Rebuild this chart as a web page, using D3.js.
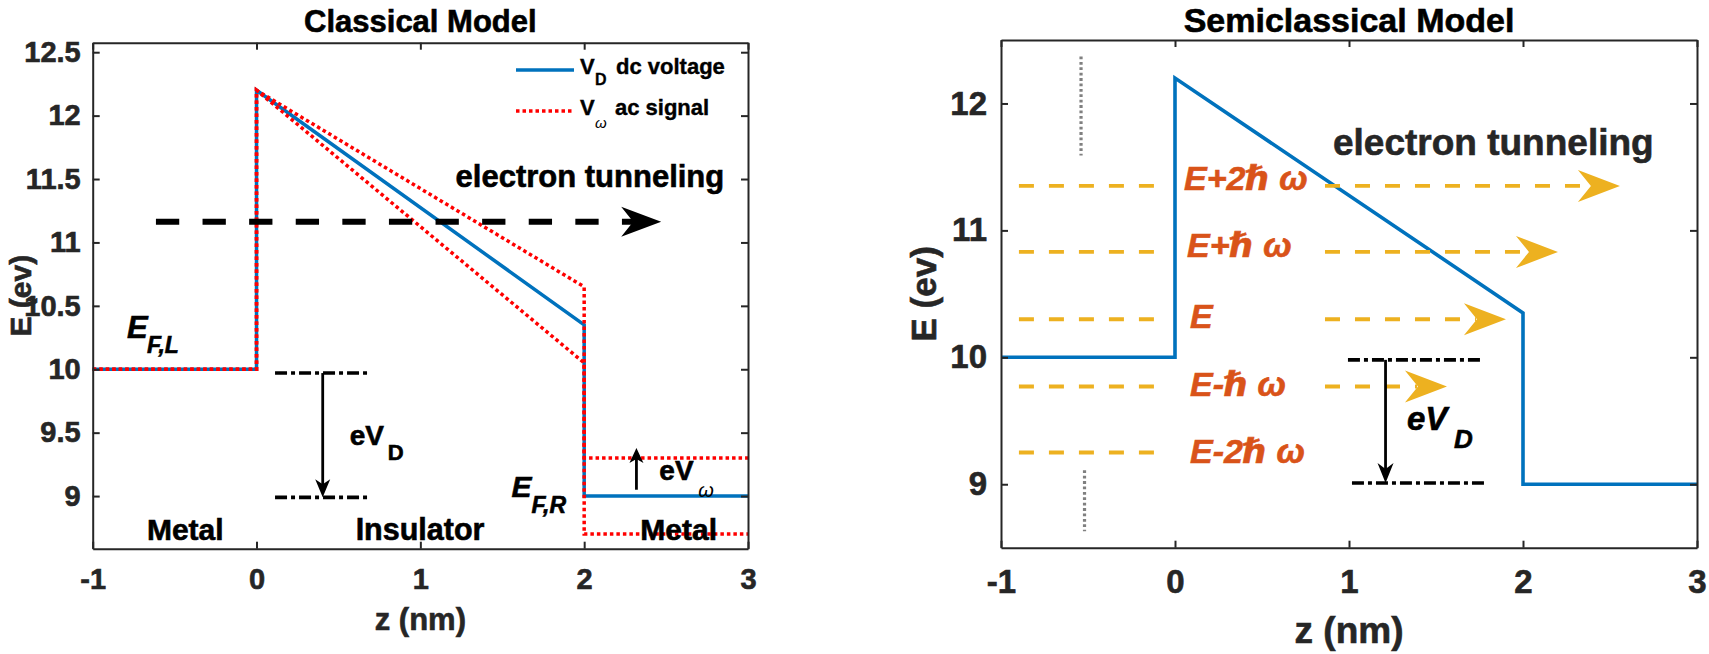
<!DOCTYPE html>
<html>
<head>
<meta charset="utf-8">
<script src="https://cdn.jsdelivr.net/npm/d3@7"></script>
<style>
  html, body { margin: 0; padding: 0; background: #fff; }
  svg { display: block; }
</style>
</head>
<body>
<svg id="chart" width="1709" height="654"></svg>
<script>
// ---- Data -------------------------------------------------------------
// Potential profile along the junction (z in nm, energy in eV)
const zProfile      = [-1, 0, 0, 2, 2, 3];
const energyDC      = [10, 10, 12.2, 10.35, 9.0, 9.0];   // V_D dc voltage
const energyACUpper = [10, 10, 12.2, 10.65, 9.3, 9.3];   // V_omega ac signal, +swing
const energyACLower = [10, 10, 12.2, 10.05, 8.7, 8.7];   // V_omega ac signal, -swing

// Axis ticks
const zTicks       = [-1, 0, 1, 2, 3];
const energyTicksL = [9, 9.5, 10, 10.5, 11, 11.5, 12, 12.5];
const energyTicksR = [9, 10, 11, 12];

// Photon-assisted tunneling levels (semiclassical panel)
const photonLevels  = [11.35, 10.83, 10.30, 9.77, 9.25];
const photonLabels  = ["E+2ℏ ω", "E+ℏ ω", "E", "E-ℏ ω", "E-2ℏ ω"];
const photonArrowTo = [2.557, 2.201, 1.902, 1.563, null];

// Bias markers: [z start, z end, upper level, lower level, arrow z]
const biasL = [0.113, 0.69, 9.97, 8.99, 0.404];
const biasR = [1.0, 1.78, 9.98, 9.01, 1.21];
const acArrowL = [2.319, 9.05, 9.38];        // z, tail level, tip level
const tunnelArrowL = [-0.614, 2.47, 11.164];  // z start, z tip, level

// ---- Setup ------------------------------------------------------------
const FONT = "'Liberation Sans', Arial, 'DejaVu Sans', sans-serif";
const AXIS = "#262626";
const BLUE = "#0072BD", RED = "#FF0000", YELLOW = "#EDB120", ORANGE = "#D95319";

const svg = d3.select("#chart");
svg.append("rect").attr("width", 1709).attr("height", 654).attr("fill", "#fff");

const xL = d3.scaleLinear().domain([-1, 3]).range([92.7, 748]);
const yL = d3.scaleLinear().domain([8.585, 12.575]).range([548.7, 42.7]);
const xR = d3.scaleLinear().domain([-1, 3]).range([1001, 1697]);
const yR = d3.scaleLinear().domain([8.5, 12.5]).range([547.7, 40]);

// Heavy bold text: fill plus a thin outline of the same colour
function text(g, x, y, s, o = {}) {
  const fill = o.fill || "#000";
  return g.append("text")
    .attr("x", x).attr("y", y)
    .attr("font-family", FONT)
    .attr("font-size", o.size || 28)
    .attr("font-weight", o.weight || "bold")
    .attr("font-style", o.style || "normal")
    .attr("fill", fill)
    .attr("stroke", fill)
    .attr("stroke-width", o.stroke == null ? 0.6 : o.stroke)
    .attr("text-anchor", o.anchor || "start")
    .text(s);
}

function styleAxis(sel, fontSize) {
  sel.select(".domain").attr("stroke", AXIS).attr("stroke-width", 2);
  sel.selectAll(".tick line").attr("stroke", AXIS).attr("stroke-width", 2);
  sel.selectAll(".tick text")
    .attr("fill", AXIS)
    .attr("stroke", AXIS)
    .attr("stroke-width", 0.6)
    .attr("font-family", FONT)
    .attr("font-weight", "bold")
    .attr("font-size", fontSize);
}

function drawAxes(g, x, y, xt, yt, o) {
  const fmt = d => String(d);
  const y0 = y.range()[0], y1 = y.range()[1];
  const x0 = x.range()[0], x1 = x.range()[1];
  g.append("g").attr("transform", `translate(0,${y0})`)
    .call(d3.axisBottom(x).tickValues(xt).tickSize(-7).tickSizeOuter(0).tickPadding(o.xPad).tickFormat(fmt))
    .call(s => styleAxis(s, o.font));
  g.append("g").attr("transform", `translate(0,${y1})`)
    .call(d3.axisTop(x).tickValues(xt).tickSize(-7).tickSizeOuter(0).tickFormat(""))
    .call(s => styleAxis(s, o.font));
  g.append("g").attr("transform", `translate(${x0},0)`)
    .call(d3.axisLeft(y).tickValues(yt).tickSize(-7).tickSizeOuter(0).tickPadding(o.yPad).tickFormat(fmt))
    .call(s => styleAxis(s, o.font));
  g.append("g").attr("transform", `translate(${x1},0)`)
    .call(d3.axisRight(y).tickValues(yt).tickSize(-7).tickSizeOuter(0).tickFormat(""))
    .call(s => styleAxis(s, o.font));
}

// Concave-back arrowhead, tip at (tx,ty), pointing along angle (radians)
function arrowHead(g, tx, ty, angle, L, h, notch, fill) {
  const pts = [[0, 0], [-L, -h], [-L + notch, 0], [-L, h]];
  const c = Math.cos(angle), s = Math.sin(angle);
  const p = pts.map(([a, b]) => [tx + a * c - b * s, ty + a * s + b * c]);
  g.append("path").attr("d", "M" + p.map(q => q.join(",")).join("L") + "Z").attr("fill", fill);
}

const line = (x, y) => d3.line().x(d => x(d[0])).y(d => y(d[1]));

// ---- Left panel: Classical Model ---------------------------------------
const gL = svg.append("g");

// Profiles
gL.append("path").datum(zProfile.map((z, i) => [z, energyDC[i]]))
  .attr("d", line(xL, yL)).attr("fill", "none").attr("stroke", BLUE).attr("stroke-width", 3.5);
[energyACUpper, energyACLower].forEach(arr => {
  gL.append("path").datum(zProfile.map((z, i) => [z, arr[i]]))
    .attr("d", line(xL, yL)).attr("fill", "none").attr("stroke", RED)
    .attr("stroke-width", 3.5).attr("stroke-dasharray", "3.5,3");
});

// Electron tunneling arrow (black dashed)
{
  const [z0, z1, e] = tunnelArrowL;
  gL.append("line").attr("x1", xL(z0)).attr("x2", xL(z1) - 28).attr("y1", yL(e)).attr("y2", yL(e))
    .attr("stroke", "#000").attr("stroke-width", 6).attr("stroke-dasharray", "23.3,23.3");
  arrowHead(gL, xL(z1), yL(e), 0, 40, 15, 12, "#000");
}

// eV_D bias marker
{
  const [za, zb, eTop, eBot, zArr] = biasL;
  [eTop, eBot].forEach(e => {
    gL.append("line").attr("x1", xL(za)).attr("x2", xL(zb)).attr("y1", yL(e)).attr("y2", yL(e))
      .attr("stroke", "#000").attr("stroke-width", 3.6).attr("stroke-dasharray", "12,4,4,4");
  });
  gL.append("line").attr("x1", xL(zArr)).attr("x2", xL(zArr)).attr("y1", yL(eTop)).attr("y2", yL(eBot) - 10)
    .attr("stroke", "#000").attr("stroke-width", 2.8);
  arrowHead(gL, xL(zArr), yL(eBot), Math.PI / 2, 18, 7.5, 5, "#000");
}

// eV_omega arrow
{
  const [z, eTail, eTip] = acArrowL;
  gL.append("line").attr("x1", xL(z)).attr("x2", xL(z)).attr("y1", yL(eTail)).attr("y2", yL(eTip) + 8)
    .attr("stroke", "#000").attr("stroke-width", 2.8);
  arrowHead(gL, xL(z), yL(eTip), -Math.PI / 2, 15, 7, 4, "#000");
}

drawAxes(gL, xL, yL, zTicks, energyTicksL, { font: 29, xPad: 20, yPad: 12 });

// Annotations
text(gL, xL(-0.791), yL(10.246), "E", { size: 31, style: "italic" });
text(gL, xL(-0.791) + 20, yL(10.246) + 15, "F,L", { size: 23, style: "italic" });
text(gL, xL(1.557), yL(8.992), "E", { size: 30, style: "italic" });
text(gL, xL(1.557) + 20, yL(8.992) + 16, "F,R", { size: 23, style: "italic" });
text(gL, xL(0.569), yL(9.403), "eV", { size: 28 });
text(gL, xL(0.569) + 38, yL(9.403) + 15, "D", { size: 22 });
text(gL, xL(2.459), yL(9.126), "eV", { size: 28 });
text(gL, xL(2.459) + 39, yL(9.126) + 17, "ω", { size: 20, weight: "normal", style: "italic", stroke: 0 });
text(gL, xL(-0.669), yL(8.653), "Metal", { size: 30 });
text(gL, xL(0.605), yL(8.653), "Insulator", { size: 30.5 });
text(gL, xL(2.343), yL(8.653), "Metal", { size: 30 });
text(gL, xL(1.215), yL(11.437), "electron tunneling", { size: 31 });

// Legend
gL.append("line").attr("x1", 516).attr("x2", 574).attr("y1", 70).attr("y2", 70)
  .attr("stroke", BLUE).attr("stroke-width", 3.5);
gL.append("line").attr("x1", 516).attr("x2", 574).attr("y1", 111).attr("y2", 111)
  .attr("stroke", RED).attr("stroke-width", 3.5).attr("stroke-dasharray", "3.5,3");
text(gL, 580, 74, "V", { size: 22, stroke: 0.4 });
text(gL, 595, 85, "D", { size: 16, stroke: 0.3 });
text(gL, 616, 74, "dc voltage", { size: 22, stroke: 0.4 });
text(gL, 580, 115, "V", { size: 22, stroke: 0.4 });
text(gL, 595, 128, "ω", { size: 15, weight: "normal", style: "italic", stroke: 0 });
text(gL, 615, 115, "ac signal", { size: 22, stroke: 0.4 });

// Titles and axis labels
text(gL, xL(1), 32, "Classical Model", { size: 31, anchor: "middle" });
text(gL, xL(1), 630, "z (nm)", { size: 31, anchor: "middle", fill: AXIS });
gL.append("text")
  .attr("transform", `translate(31,${(yL.range()[0] + yL.range()[1]) / 2}) rotate(-90)`)
  .attr("text-anchor", "middle").attr("font-family", FONT).attr("font-weight", "bold")
  .attr("font-size", 30).attr("fill", AXIS).attr("stroke", AXIS).attr("stroke-width", 0.6)
  .text("E (ev)");

// ---- Right panel: Semiclassical Model ----------------------------------
const gR = svg.append("g");

// Vertical ellipsis markers
[[12.37, 11.59, -0.54], [9.11, 8.63, -0.52]].forEach(([e0, e1, z]) => {
  gR.append("line").attr("x1", xR(z)).attr("x2", xR(z)).attr("y1", yR(e0)).attr("y2", yR(e1))
    .attr("stroke", "#808080").attr("stroke-width", 3.2).attr("stroke-dasharray", "2.8,2.6");
});

// Photon levels: left dashes
photonLevels.forEach(e => {
  gR.append("line").attr("x1", xR(-0.897)).attr("x2", xR(-0.121)).attr("y1", yR(e)).attr("y2", yR(e))
    .attr("stroke", YELLOW).attr("stroke-width", 3.8).attr("stroke-dasharray", "15,15");
});

// Barrier profile
gR.append("path").datum(zProfile.map((z, i) => [z, energyDC[i]]))
  .attr("d", line(xR, yR)).attr("fill", "none").attr("stroke", BLUE).attr("stroke-width", 3.6);

// Photon levels: right dashed arrows
photonLevels.forEach((e, i) => {
  const tip = photonArrowTo[i];
  if (tip == null) return;
  gR.append("line").attr("x1", xR(0.862)).attr("x2", xR(tip) - 30).attr("y1", yR(e)).attr("y2", yR(e))
    .attr("stroke", YELLOW).attr("stroke-width", 3.8).attr("stroke-dasharray", "15,15");
  arrowHead(gR, xR(tip), yR(e), 0, 42, 16, 13, YELLOW);
});

// Level labels
const labelPos = [[0.052, 11.319], [0.069, 10.791], [0.086, 10.232], [0.086, 9.697], [0.086, 9.169]];
photonLabels.forEach((s, i) => {
  text(gR, xR(labelPos[i][0]), yR(labelPos[i][1]), s, { size: 34, style: "italic", fill: ORANGE });
});

// eV_D bias marker
{
  const [za, zb, eTop, eBot, zArr] = biasR;
  gR.append("line").attr("x1", xR(za - 0.006)).attr("x2", xR(zb - 0.015)).attr("y1", yR(eTop)).attr("y2", yR(eTop))
    .attr("stroke", "#000").attr("stroke-width", 3.6).attr("stroke-dasharray", "12,4,4,4");
  gR.append("line").attr("x1", xR(za + 0.017)).attr("x2", xR(zb + 0.013)).attr("y1", yR(eBot)).attr("y2", yR(eBot))
    .attr("stroke", "#000").attr("stroke-width", 3.6).attr("stroke-dasharray", "12,4,4,4");
  gR.append("line").attr("x1", xR(zArr)).attr("x2", xR(zArr)).attr("y1", yR(eTop)).attr("y2", yR(eBot) - 12)
    .attr("stroke", "#000").attr("stroke-width", 2.8);
  arrowHead(gR, xR(zArr), yR(eBot), Math.PI / 2, 20, 8, 6, "#000");
}
text(gR, xR(1.333), yR(9.429), "eV", { size: 33, style: "italic" });
text(gR, xR(1.333) + 47, yR(9.429) + 18, "D", { size: 26, style: "italic" });

drawAxes(gR, xR, yR, zTicks, energyTicksR, { font: 33, xPad: 22, yPad: 14 });

text(gR, xR(0.908), yR(11.594), "electron tunneling", { size: 37, fill: AXIS });

text(gR, xR(1), 32, "Semiclassical Model", { size: 34, anchor: "middle" });
text(gR, xR(1), 643, "z (nm)", { size: 37, anchor: "middle", fill: AXIS });
gR.append("text")
  .attr("transform", `translate(936,${(yR.range()[0] + yR.range()[1]) / 2}) rotate(-90)`)
  .attr("text-anchor", "middle").attr("font-family", FONT).attr("font-weight", "bold")
  .attr("font-size", 35).attr("fill", AXIS).attr("stroke", AXIS).attr("stroke-width", 0.6)
  .text("E (ev)");
</script>
</body>
</html>
